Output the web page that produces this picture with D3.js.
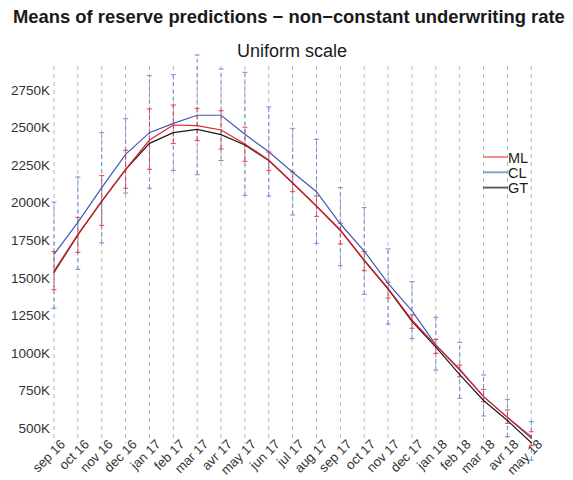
<!DOCTYPE html>
<html>
<head>
<meta charset="utf-8">
<title>Means of reserve predictions</title>
<script src="https://d3js.org/d3.v7.min.js"></script>
<style>
  body { margin: 0; background: #fff; }
  text { font-family: "Liberation Sans", Arial, Helvetica, sans-serif; }
</style>
</head>
<body>
<script type="text/javascript">

// months on the x axis
var months = ["sep 16", "oct 16", "nov 16", "dec 16", "jan 17", "feb 17", "mar 17",
  "avr 17", "may 17", "jun 17", "jul 17", "aug 17", "sep 17", "oct 17", "nov 17",
  "dec 17", "jan 18", "feb 18", "mar 18", "avr 18", "may 18"]

// means (in K)
var mlMean = [1545, 1789, 2011, 2222, 2417, 2517, 2513, 2484, 2391, 2284, 2133,
  1978, 1818, 1618, 1430, 1219, 1050, 886, 709, 571, 442]
var clMean = [1656, 1869, 2100, 2322, 2466, 2528, 2582, 2582, 2455, 2339, 2202,
  2073, 1858, 1678, 1463, 1279, 1053, 891, 709, 571, 431]
var gtMean = [1535, 1785, 2008, 2220, 2395, 2466, 2488, 2453, 2384, 2280, 2130,
  1975, 1815, 1615, 1425, 1210, 1038, 855, 683, 550, 402]

// error bars (low / high, in K)
var mlLow  = [1421, 1669, 1849, 2096, 2222, 2393, 2413, 2357, 2275, 2213, 2073,
  1909, 1725, 1547, 1365, 1164, 997, 841, 675, 531, 382]
var mlHigh = [1674, 1902, 2180, 2349, 2624, 2650, 2628, 2612, 2502, 2337, 2204,
  2044, 1863, 1674, 1470, 1252, 1090, 919, 757, 620, 475]
var clLow  = [1297, 1556, 1732, 2064, 2096, 2215, 2186, 2280, 2049, 2044, 1918,
  1729, 1580, 1390, 1192, 1095, 886, 698, 580, 442, 286]
var clHigh = [2004, 2171, 2466, 2559, 2845, 2852, 2983, 2890, 2868, 2637, 2495,
  2422, 2100, 1967, 1692, 1474, 1237, 1070, 853, 691, 542]

var yTicks = [500, 750, 1000, 1250, 1500, 1750, 2000, 2250, 2500, 2750]

var legendKeys = ["ML", "CL", "GT"]
var legendColors = ["#f27f7f", "#8199d8", "#555555"]

var width = 573, height = 480

var svg = d3.select("body").append("svg")
  .attr("width", width)
  .attr("height", height)

var x = d3.scalePoint().domain(months).range([54, 531.3])
var y = d3.scaleLinear().domain([500, 2750]).range([428, 90])

// titles
svg.append("text")
  .attr("x", 13).attr("y", 22.5)
  .attr("font-size", "18.4px")
  .attr("font-weight", "bold")
  .attr("fill", "#1a1a1a")
  .text("Means of reserve predictions \u2212 non\u2212constant underwriting rate")

svg.append("text")
  .attr("x", 292).attr("y", 57)
  .attr("text-anchor", "middle")
  .attr("font-size", "18px")
  .attr("fill", "#1a1a1a")
  .text("Uniform scale")

// vertical dashed grid
svg.append("g").selectAll("line")
  .data(months)
  .enter().append("line")
  .attr("x1", function(d) { return x(d) })
  .attr("x2", function(d) { return x(d) })
  .attr("y1", 66).attr("y2", 443)
  .attr("stroke", "#b5b5b5")
  .attr("stroke-width", 1)
  .attr("stroke-dasharray", "4,4")

// y axis labels (no line, no ticks)
svg.append("g").selectAll("text")
  .data(yTicks)
  .enter().append("text")
  .attr("x", 50)
  .attr("y", function(d) { return y(d) })
  .attr("dy", "0.35em")
  .attr("text-anchor", "end")
  .attr("font-size", "13.5px")
  .attr("fill", "#333")
  .text(function(d) { return d + "K" })

// x axis labels, rotated
svg.append("g").selectAll("text")
  .data(months)
  .enter().append("text")
  .attr("transform", function(d) { return "translate(" + (x(d) + 12) + ",445) rotate(-45)" })
  .attr("text-anchor", "end")
  .attr("font-size", "13.2px")
  .attr("fill", "#333")
  .text(function(d) { return d })

// error bars
function errorBars(lo, hi, color, dash) {
  var g = svg.append("g")
  var idx = d3.range(months.length)
  g.selectAll(".bar").data(idx).enter().append("line")
    .attr("x1", function(i) { return x(months[i]) })
    .attr("x2", function(i) { return x(months[i]) })
    .attr("y1", function(i) { return y(lo[i]) })
    .attr("y2", function(i) { return y(hi[i]) })
    .attr("stroke", color).attr("stroke-width", 1)
    .attr("stroke-dasharray", dash)
  ;[lo, hi].forEach(function(arr) {
    g.selectAll(null).data(idx).enter().append("line")
      .attr("x1", function(i) { return x(months[i]) - 2.5 })
      .attr("x2", function(i) { return x(months[i]) + 2.5 })
      .attr("y1", function(i) { return y(arr[i]) })
      .attr("y2", function(i) { return y(arr[i]) })
      .attr("stroke", color).attr("stroke-width", 1)
  })
}
errorBars(clLow, clHigh, "#6f8dd3", "4,3")
errorBars(mlLow, mlHigh, "#ee3b44", "4,3")

// mean lines
var line = d3.line()
  .x(function(d, i) { return x(months[i]) })
  .y(function(d) { return y(d) })

svg.append("path").datum(gtMean)
  .attr("d", line).attr("fill", "none")
  .attr("stroke", "#1a1a1a").attr("stroke-width", 1.2)
svg.append("path").datum(clMean)
  .attr("d", line).attr("fill", "none")
  .attr("stroke", "#3c5db4").attr("stroke-width", 1.2)
svg.append("path").datum(mlMean)
  .attr("d", line).attr("fill", "none")
  .attr("stroke", "#e2202a").attr("stroke-width", 1.2)

// legend
var legend = svg.append("g").selectAll("g")
  .data(legendKeys)
  .enter().append("g")
  .attr("transform", function(d, i) { return "translate(483," + (157 + i * 15.3) + ")" })

legend.append("line")
  .attr("x1", 0).attr("x2", 25)
  .attr("stroke", function(d, i) { return legendColors[i] })
  .attr("stroke-width", 1.8)

legend.append("text")
  .attr("x", 25).attr("y", 5.5)
  .attr("font-size", "14.5px")
  .attr("fill", "#1a1a1a")
  .text(function(d) { return d })

</script>
</body>
</html>
